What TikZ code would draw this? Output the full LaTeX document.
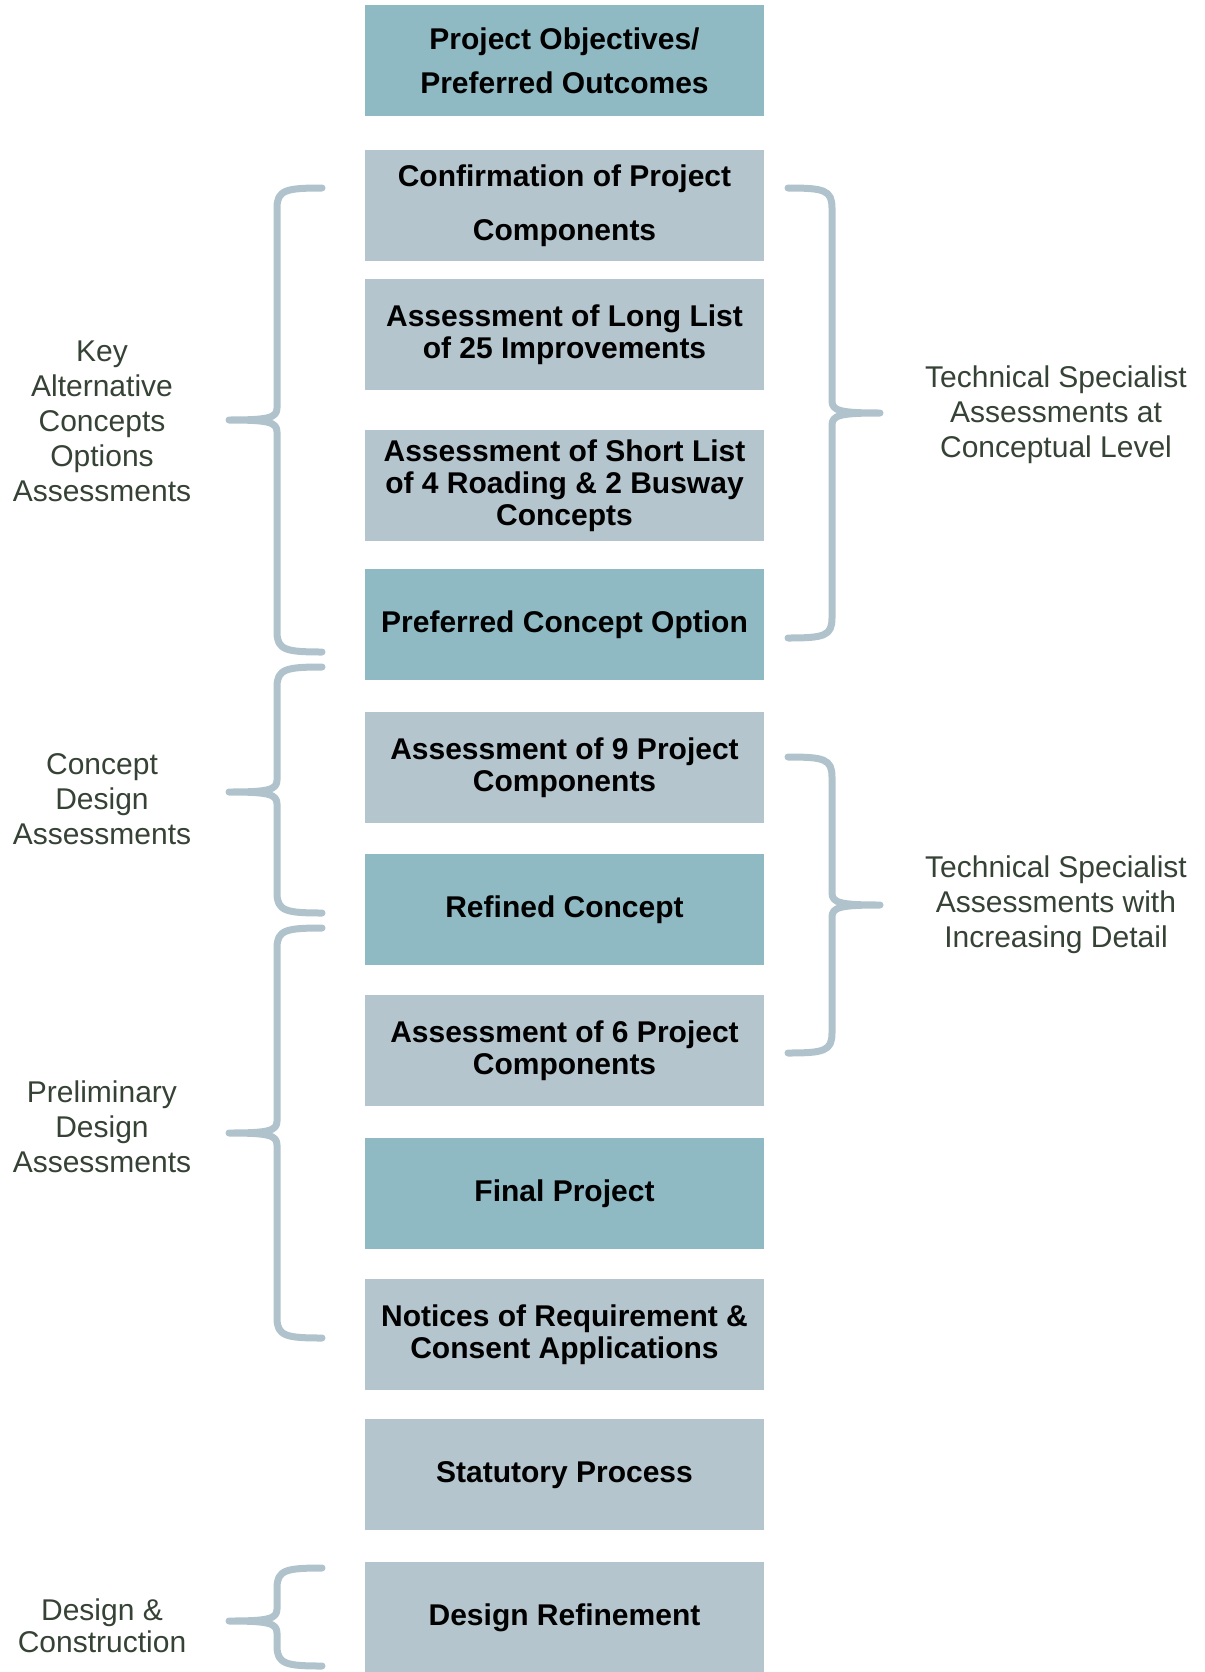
\documentclass[tikz,border=0pt]{standalone}
\usepackage{fontspec}
\setmainfont{Liberation Sans}
\definecolor{stageteal}{HTML}{8FBAC4}
\definecolor{stagegrey}{HTML}{B4C5CD}
\definecolor{bracegrey}{HTML}{B0C3CD}
\definecolor{sidetext}{HTML}{354235}

\begin{document}
\begin{tikzpicture}[x = 1pt, y = -1pt,
                    stage/.style = {rectangle, minimum width = 399pt, minimum height = 111pt, inner sep = 0pt,
                                    anchor = north, align = center, font = \fontsize{30}{32}\selectfont\bfseries},
                    keystage/.style = {stage, fill = stageteal},
                    workstage/.style = {stage, fill = stagegrey},
                    side/.style = {align = center, text = sidetext, font = \fontsize{30}{35}\selectfont},
                    brace/.style = {draw = bracegrey, line width = 7pt, line cap = round, line join = round}]
      \useasboundingbox (0, 0) rectangle (1204, 1672);

      \node [keystage] (obj) at (564.5, 5){Project Objectives/\\[12pt]Preferred Outcomes};
      \node [workstage] (conf) at (564.5, 150){Confirmation of Project\\[22pt]Components};
      \node [workstage] (long) at (564.5, 279){Assessment of Long List\\of 25 Improvements};
      \node [workstage] (short) at (564.5, 430){Assessment of Short List\\of 4 Roading \& 2 Busway\\Concepts};
      \node [keystage] (pref) at (564.5, 569){Preferred Concept Option};
      \node [workstage] (nine) at (564.5, 712){Assessment of 9 Project\\Components};
      \node [keystage] (refined) at (564.5, 854){Refined Concept};
      \node [workstage] (six) at (564.5, 995){Assessment of 6 Project\\Components};
      \node [keystage] (final) at (564.5, 1138){Final Project};
      \node [workstage] (notices) at (564.5, 1279){Notices of Requirement \&\\Consent Applications};
      \node [workstage] (statutory) at (564.5, 1419){Statutory Process};
      \node [workstage] (refinement) at (564.5, 1562){Design Refinement};

      \node [side] (key) at (102, 421){Key\\Alternative\\Concepts\\Options\\Assessments};
      \node [side] (concept) at (102, 799){Concept\\Design\\Assessments};
      \node [side] (prelim) at (102, 1127){Preliminary\\Design\\Assessments};
      \node [side, font = \fontsize{30}{32}\selectfont] (build) at (102, 1626){Design \&\\Construction};
      \node [side] (conceptual) at (1056, 415){Technical Specialist\\Assessments at\\Conceptual Level};
      \node [side] (detail) at (1056, 905){Technical Specialist\\Assessments with\\Increasing Detail};

      \foreach \t/\m/\b in {188/420/652, 667/792/913, 928/1133/1338, 1568/1621/1666}
        \draw [brace] (322, \t) .. controls (286, \t) and (277, \t + 2) .. (277, \t + 20)
                      -- (277, \m - 12) .. controls (277, \m - 2) and (268, \m) .. (229, \m)
                      .. controls (268, \m) and (277, \m + 2) .. (277, \m + 12)
                      -- (277, \b - 20) .. controls (277, \b - 2) and (286, \b) .. (322, \b);

      \foreach \t/\m/\b in {188/413/638, 757/905/1053}
        \draw [brace] (788, \t) .. controls (824, \t) and (832, \t + 2) .. (832, \t + 20)
                      -- (832, \m - 12) .. controls (832, \m - 2) and (841, \m) .. (880, \m)
                      .. controls (841, \m) and (832, \m + 2) .. (832, \m + 12)
                      -- (832, \b - 20) .. controls (832, \b - 2) and (824, \b) .. (788, \b);
      \end{tikzpicture}
\end{document}
